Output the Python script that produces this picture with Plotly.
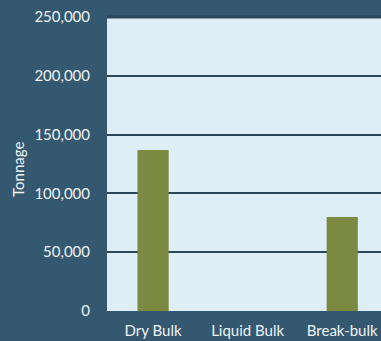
import plotly.graph_objects as go

categories = ["Dry Bulk", "Liquid Bulk", "Break-bulk"]
tonnage = [137000, 0, 80000]
y_ticks = [0, 50000, 100000, 150000, 200000, 250000]

fig = go.Figure()
fig.add_trace(go.Bar(
    x=categories, y=tonnage,
    marker=dict(color="#7b8a40", line=dict(width=0)),
    hoverinfo="skip",
))

fig.update_layout(
    width=381, height=341,
    margin=dict(l=107, r=0, t=17, b=30, pad=0),
    paper_bgcolor="#34586f",
    plot_bgcolor="#ddeef7",
    bargap=0.67,
    showlegend=False,
    font=dict(family="Lato, Open Sans, sans-serif", size=15, color="#eef3f6"),
)
fig.update_xaxes(
    range=[-0.487, 2.41], automargin=False,
    showgrid=False, zeroline=False, showline=False,
    ticks="", tickfont=dict(size=15, color="#eef3f6"),
    ticklabelstandoff=9,
)
fig.update_yaxes(
    range=[0, 250000], automargin=False,
    tickvals=y_ticks, tickformat=",d",
    showgrid=True, gridcolor="#2c4659", gridwidth=2,
    zeroline=False, showline=False,
    ticks="", ticklabelstandoff=16,
    tickfont=dict(size=15, color="#eef3f6"),
)
# top border of the plot area (gridline at the range maximum)
fig.add_shape(
    type="line", xref="paper", yref="paper", x0=0, x1=1, y0=1, y1=1,
    line=dict(color="#2c4659", width=3), layer="above",
)
fig.add_annotation(
    text="Tonnage", textangle=-90, showarrow=False,
    xref="paper", yref="paper", x=-0.325, y=0.483,
    xanchor="center", yanchor="middle",
    font=dict(size=15, color="#eef3f6"),
)

fig.write_html(
    "out.html",
    config={"displayModeBar": False},
    post_script="document.body.style.margin='0';document.body.style.background='#34586f';",
)
